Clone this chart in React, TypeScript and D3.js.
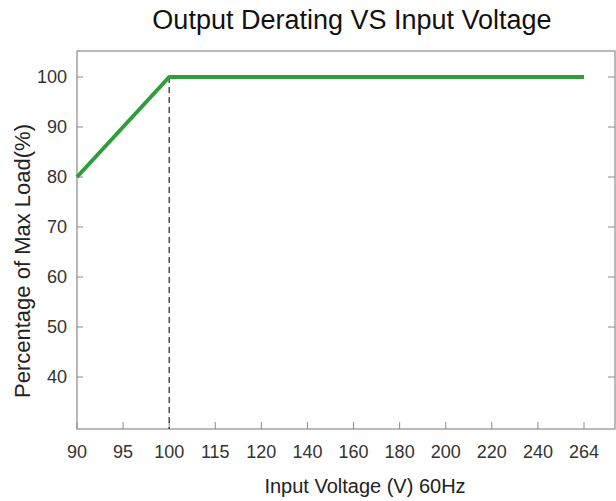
import React, { useEffect, useRef } from 'react';
import * as d3 from 'd3';

// input voltage categories on the x axis (evenly spaced, not linear)
const voltages = ['90', '95', '100', '115', '120', '140', '160', '180', '200', '220', '240', '264'];
// derating curve: percentage of max load at each voltage
const curveVoltages = ['90', '100', '264'];
const curveLoads = [80, 100, 100];
const yTicks = [40, 50, 60, 70, 80, 90, 100];
const kneeVoltage = '100';

const W = 616;
const H = 501;

const DeratingChart = () => {
    const svgRef = useRef<SVGSVGElement>(null);

    useEffect(() => {
        const svg = d3.select(svgRef.current);
        svg.selectAll('*').remove();

        const frame = { left: 77, right: 615, top: 51, bottom: 429 };
        const tickFont = '"Liberation Sans Narrow", "Liberation Sans", Arial, sans-serif';
        const labelFont = '"Liberation Sans", Arial, sans-serif';

        const x = d3.scalePoint<string>()
            .domain(voltages)
            .range([77, 584]);

        const y = d3.scaleLinear()
            .domain([40, 100])
            .range([377, 77]);

        // plot frame
        svg.append('rect')
            .attr('x', frame.left)
            .attr('y', frame.top)
            .attr('width', frame.right - frame.left)
            .attr('height', frame.bottom - frame.top)
            .attr('fill', 'none')
            .attr('stroke', '#8c8c8c')
            .attr('stroke-width', 1.2);

        // left axis: inward ticks + labels
        const yAxis = svg.append('g').attr('transform', `translate(${frame.left},0)`);
        yTicks.forEach(t => {
            yAxis.append('line')
                .attr('x1', 0).attr('x2', 6)
                .attr('y1', y(t)).attr('y2', y(t))
                .attr('stroke', '#8c8c8c');
            yAxis.append('text')
                .attr('x', -10)
                .attr('y', y(t))
                .attr('dy', '0.36em')
                .attr('text-anchor', 'end')
                .attr('font-family', tickFont)
                .attr('font-size', 18)
                .attr('fill', '#333')
                .text(t);
        });

        // right axis: inward ticks only
        yTicks.forEach(t => {
            svg.append('line')
                .attr('x1', frame.right - 7).attr('x2', frame.right)
                .attr('y1', y(t)).attr('y2', y(t))
                .attr('stroke', '#8c8c8c');
        });

        // bottom axis
        const xAxis = svg.append('g');
        voltages.forEach(v => {
            xAxis.append('line')
                .attr('x1', x(v)).attr('x2', x(v))
                .attr('y1', frame.bottom - 7).attr('y2', frame.bottom)
                .attr('stroke', '#8c8c8c');
            xAxis.append('text')
                .attr('x', x(v))
                .attr('y', 458)
                .attr('text-anchor', 'middle')
                .attr('font-family', tickFont)
                .attr('font-size', 18)
                .attr('fill', '#333')
                .text(v);
        });

        // dashed marker at the knee
        svg.append('line')
            .attr('x1', x(kneeVoltage)).attr('x2', x(kneeVoltage))
            .attr('y1', y(100)).attr('y2', frame.bottom)
            .attr('stroke', '#222')
            .attr('stroke-width', 1.2)
            .attr('stroke-dasharray', '6,4');

        const line = d3.line<number>()
            .x((d, i) => x(curveVoltages[i]) as number)
            .y(d => y(d));

        svg.append('path')
            .datum(curveLoads)
            .attr('fill', 'none')
            .attr('stroke', '#2e9e3c')
            .attr('stroke-width', 4)
            .attr('stroke-linejoin', 'round')
            .attr('d', line);

        // title and axis labels
        svg.append('text')
            .attr('x', 352)
            .attr('y', 29)
            .attr('text-anchor', 'middle')
            .attr('font-family', labelFont)
            .attr('font-size', 27)
            .attr('fill', '#111')
            .text('Output Derating VS Input Voltage');

        svg.append('text')
            .attr('x', 365)
            .attr('y', 493)
            .attr('text-anchor', 'middle')
            .attr('font-family', labelFont)
            .attr('font-size', 20)
            .attr('fill', '#222')
            .text('Input Voltage (V) 60Hz');

        svg.append('text')
            .attr('transform', 'translate(30,261) rotate(-90)')
            .attr('text-anchor', 'middle')
            .attr('font-family', labelFont)
            .attr('font-size', 22)
            .attr('fill', '#222')
            .text('Percentage of Max Load(%)');
    }, []);

    return (
        <svg
            ref={svgRef}
            width={W}
            height={H}
            style={{ position: 'absolute', left: 0, top: 0, background: '#fff' }}
        />
    );
};

export default function App() {
    return <DeratingChart />;
}
